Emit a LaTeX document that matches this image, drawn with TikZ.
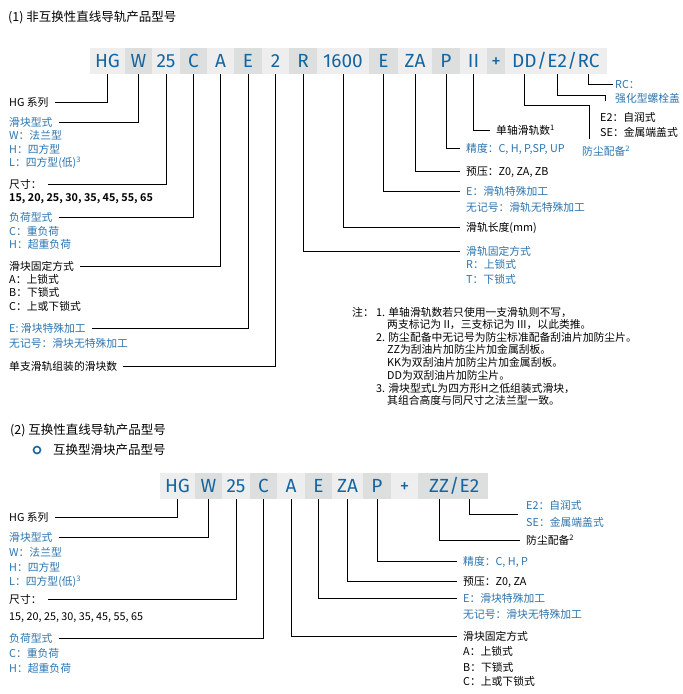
\documentclass[tikz,border=0pt]{standalone}
\usepackage{fontspec}
\setmainfont{Noto Sans CJK SC}[BoldFont={Noto Sans CJK SC Bold}]
\newfontfamily\barfont{Fira Sans}
\usepackage{xcolor}
\usepackage{tikz}
\usetikzlibrary{positioning}

\definecolor{codeblue}{RGB}{20,102,162}
\definecolor{labelblue}{RGB}{44,116,174}
\definecolor{celllight}{RGB}{238,238,238}
\definecolor{celldark}{RGB}{221,222,222}

\tikzset{
  celltext/.style={inner sep=0pt, text=codeblue, text height=13.5pt, text depth=0pt,
    font=\barfont\fontsize{19}{19}\selectfont},
  cell/.style={celltext, fill=celllight, minimum height=26pt},
  darkcell/.style={cell, fill=celldark},
  head/.style={anchor=west, inner xsep=6pt, inner ysep=1pt, text height=9pt, text depth=1pt,
    font=\fontsize{10.8}{12}\selectfont},
  sub/.style={anchor=west, inner sep=0pt, text height=9pt, text depth=1pt,
    font=\fontsize{10.8}{12}\selectfont},
  bluetext/.style={text=labelblue},
  heading/.style={anchor=west, inner sep=0pt, font=\fontsize{12.5}{14}\selectfont},
  lead/.style={line width=0.8pt, black},
}

\begin{document}
\begin{tikzpicture}[x=1pt, y=-1pt]
  \useasboundingbox (0,0) rectangle (683,694);

  % (1) non-interchangeable
  \node[heading] (titleA) at (8,17) {(1) 非互换性直线导轨产品型号};

  \node[cell, minimum width=35pt] (hgA) at (107.5,61) {HG};
  \node[darkcell, minimum width=27pt] (wA) at (138.5,61) {W};
  \node[cell, minimum width=28pt] (szA) at (166,61) {25};
  \node[darkcell, minimum width=27pt] (ldA) at (193.5,61) {C};
  \node[cell, minimum width=27pt] (fxA) at (220.5,61) {A};
  \node[darkcell, minimum width=28pt] (esA) at (248,61) {E};
  \node[cell, minimum width=27pt] (nbA) at (275.5,61) {2};
  \node[darkcell, minimum width=28pt] (rfA) at (303,61) {R};
  \node[cell, minimum width=52pt] (lenA) at (343,61) {1600};
  \node[darkcell, minimum width=29pt] (erA) at (383.5,61) {E};
  \node[cell, minimum width=34pt] (prA) at (415,61) {ZA};
  \node[darkcell, minimum width=28pt] (acA) at (446,61) {P};
  \node[cell, minimum width=27pt] (rlA) at (473.5,61) {II};
  \node[darkcell, minimum width=18pt] (plA) at (496,61) {+};
  \node[cell, minimum width=102pt] (dsA) at (556,61) {};
  \node[celltext, anchor=west] (ddA) at (512,61) {DD};
  \node[celltext, right=0pt of ddA] (slA) {/};
  \node[celltext, right=0pt of slA] (e2A) {E2};
  \node[celltext, right=0pt of e2A] (slB) {/};
  \node[celltext, right=0pt of slB] (rcA) {RC};

  % left labels
  \node[head] (lhgA) at (3,102) {HG 系列};
  \node[head, bluetext] (lwA) at (3,122) {滑块型式};
  \node[sub, bluetext] (lwA1) at (9,135) {W：法兰型};
  \node[sub, bluetext] (lwA2) at (9,149) {H：四方型};
  \node[sub, bluetext] (lwA3) at (9,162) {L：四方型(低)\textsuperscript{3}};
  \node[head] (lszA) at (3,184) {尺寸：};
  \node[sub, font=\bfseries\fontsize{10.8}{12}\selectfont] (lszA1) at (9,197) {15, 20, 25, 30, 35, 45, 55, 65};
  \node[head, bluetext] (lldA) at (3,217) {负荷型式};
  \node[sub, bluetext] (lldA1) at (9,231) {C：重负荷};
  \node[sub, bluetext] (lldA2) at (9,244) {H：超重负荷};
  \node[head] (lfxA) at (3,266) {滑块固定方式};
  \node[sub] (lfxA1) at (9,279) {A：上锁式};
  \node[sub] (lfxA2) at (9,292) {B：下锁式};
  \node[sub] (lfxA3) at (9,306) {C：上或下锁式};
  \node[head, bluetext] (lesA) at (3,328) {E: 滑块特殊加工};
  \node[sub, bluetext] (lesA1) at (9,343) {无记号：滑块无特殊加工};
  \node[head] (lnbA) at (3,366) {单支滑轨组装的滑块数};

  % right labels
  \node[head] (lrlA) at (490,130) {单轴滑轨数\textsuperscript{1}};
  \node[head, bluetext] (lacA) at (460,148) {精度：C, H, P,SP, UP};
  \node[head] (lprA) at (460,171) {预压：Z0, ZA, ZB};
  \node[head, bluetext] (lerA) at (460,191) {E：滑轨特殊加工};
  \node[sub, bluetext] (lerA1) at (466,207) {无记号：滑轨无特殊加工};
  \node[head] (llenA) at (460,227) {滑轨长度(mm)};
  \node[head, bluetext] (lrfA) at (460,251) {滑轨固定方式};
  \node[sub, bluetext] (lrfA1) at (466,264) {R：上锁式};
  \node[sub, bluetext] (lrfA2) at (466,279) {T：下锁式};
  \node[head, bluetext, inner xsep=2pt] (lrcA) at (613,84) {RC：};
  \node[sub, bluetext] (lrcA1) at (615,98) {强化型螺栓盖};
  \node[sub] (le2A) at (600,117) {E2：自润式};
  \node[sub] (le2A1) at (600,132) {SE：金属端盖式};
  \node[sub, bluetext] (lddA) at (582,151) {防尘配备\textsuperscript{2}};
  \coordinate (e2endA) at (605,101);
  \coordinate (ddendA) at (589,139);

  % leads
  \draw[lead] (hgA.south) |- (lhgA.east);
  \draw[lead] (wA.south) |- (lwA.east);
  \draw[lead] (szA.south) |- (lszA.east);
  \draw[lead] (ldA.south) |- (lldA.east);
  \draw[lead] (fxA.south) |- (lfxA.east);
  \draw[lead] (esA.south) |- (lesA.east);
  \draw[lead] (nbA.south) |- (lnbA.east);
  \draw[lead] (rfA.south) |- (lrfA.west);
  \draw[lead] (lenA.south) |- (llenA.west);
  \draw[lead] (erA.south) |- (lerA.west);
  \draw[lead] (prA.south) |- (lprA.west);
  \draw[lead] (acA.south) |- (lacA.west);
  \draw[lead] (rlA.south) |- (lrlA.west);
  \draw[lead] (ddA.south |- dsA.south) -- ++(0,31) -| (ddendA);
  \draw[lead] (e2A.south |- dsA.south) -- ++(0,21) -| (e2endA);
  \draw[lead] (rcA.south |- dsA.south) |- (lrcA.west);

  % notes
  \node[sub] (noteA) at (352,312) {注：};
  \node[sub] (noteB) at (376,312) {1. 单轴滑轨数若只使用一支滑轨则不写，};
  \node[sub] (noteC) at (387,324.5) {两支标记为 II，三支标记为 III，以此类推。};
  \node[sub] (noteD) at (376,337) {2. 防尘配备中无记号为防尘标准配备刮油片加防尘片。};
  \node[sub] (noteE) at (387,349.5) {ZZ为刮油片加防尘片加金属刮板。};
  \node[sub] (noteF) at (387,362) {KK为双刮油片加防尘片加金属刮板。};
  \node[sub] (noteG) at (387,375) {DD为双刮油片加防尘片。};
  \node[sub] (noteH) at (376,388) {3. 滑块型式L为四方形H之低组装式滑块，};
  \node[sub] (noteI) at (387,400.5) {其组合高度与同尺寸之法兰型一致。};

  % (2) interchangeable
  \node[heading] (titleB) at (10,430) {(2) 互换性直线导轨产品型号};
  \node[circle, draw=codeblue, line width=1.6pt, minimum size=7pt, inner sep=0pt] (dotB) at (37,450) {};
  \node[heading] (subtitleB) at (53,450) {互换型滑块产品型号};

  \node[cell, minimum width=35pt] (hgB) at (177.5,486) {HG};
  \node[darkcell, minimum width=27pt] (wB) at (208.5,486) {W};
  \node[cell, minimum width=28pt] (szB) at (236,486) {25};
  \node[darkcell, minimum width=27pt] (ldB) at (263.5,486) {C};
  \node[cell, minimum width=28pt] (fxB) at (291,486) {A};
  \node[darkcell, minimum width=27pt] (esB) at (318.5,486) {E};
  \node[cell, minimum width=31pt] (prB) at (347.5,486) {ZA};
  \node[darkcell, minimum width=28pt] (acB) at (377,486) {P};
  \node[cell, minimum width=27pt] (plB) at (404.5,486) {+};
  \node[darkcell, minimum width=70pt] (dsB) at (453,486) {};
  \node[celltext, anchor=west] (zzB) at (429,486) {ZZ};
  \node[celltext, right=0pt of zzB] (slC) {/};
  \node[celltext, right=0pt of slC] (e2B) {E2};

  % left labels
  \node[head] (lhgB) at (3,517) {HG 系列};
  \node[head, bluetext] (lwB) at (3,537) {滑块型式};
  \node[sub, bluetext] (lwB1) at (9,552) {W：法兰型};
  \node[sub, bluetext] (lwB2) at (9,567) {H：四方型};
  \node[sub, bluetext] (lwB3) at (9,581) {L：四方型(低)\textsuperscript{3}};
  \node[head] (lszB) at (3,599) {尺寸：};
  \node[sub] (lszB1) at (9,616) {15, 20, 25, 30, 35, 45, 55, 65};
  \node[head, bluetext] (lldB) at (3,638) {负荷型式};
  \node[sub, bluetext] (lldB1) at (9,653) {C：重负荷};
  \node[sub, bluetext] (lldB2) at (9,668) {H：超重负荷};

  % right labels
  \node[sub, bluetext] (le2B) at (526,505) {E2：自润式};
  \node[sub, bluetext] (le2B1) at (526,522) {SE：金属端盖式};
  \coordinate (e2endB) at (518,514);
  \node[head] (lzzB) at (520,540) {防尘配备\textsuperscript{2}};
  \node[head, bluetext] (lacB) at (457,561) {精度：C, H, P};
  \node[head] (lprB) at (457,581) {预压：Z0, ZA};
  \node[head, bluetext] (lesB) at (457,598) {E：滑块特殊加工};
  \node[sub, bluetext] (lesB1) at (463,614) {无记号：滑块无特殊加工};
  \node[head] (lfxB) at (457,636) {滑块固定方式};
  \node[sub] (lfxB1) at (463,651) {A：上锁式};
  \node[sub] (lfxB2) at (463,667) {B：下锁式};
  \node[sub] (lfxB3) at (463,681) {C：上或下锁式};

  % leads
  \draw[lead] (hgB.south) |- (lhgB.east);
  \draw[lead] (wB.south) |- (lwB.east);
  \draw[lead] (szB.south) |- (lszB.east);
  \draw[lead] (ldB.south) |- (lldB.east);
  \draw[lead] (fxB.south) |- (lfxB.west);
  \draw[lead] (esB.south) |- (lesB.west);
  \draw[lead] (prB.south) |- (lprB.west);
  \draw[lead] (acB.south) |- (lacB.west);
  \draw[lead] (zzB.south |- dsB.south) |- (lzzB.west);
  \draw[lead] (e2B.south |- dsB.south) |- (e2endB);
\end{tikzpicture}
\end{document}
